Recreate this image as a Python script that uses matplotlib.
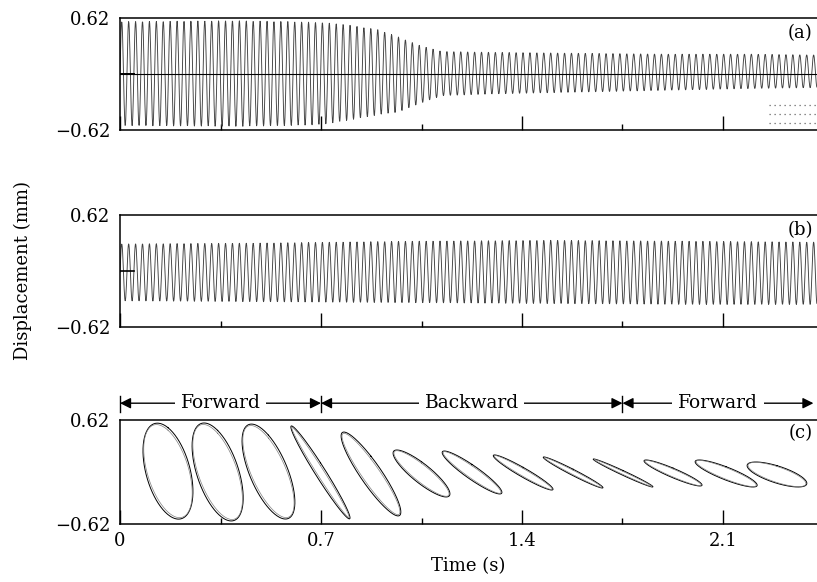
import numpy as np
import matplotlib
matplotlib.use("Agg")
import matplotlib.pyplot as plt

plt.rcParams["font.family"] = ["DejaVu Serif"]
plt.rcParams["axes.unicode_minus"] = True

# shaft displacement (envelope of the vibration)
freq = 41.5  # Hz, oscillation seen in (a) and (b)

a_time = [0, 0.4, 0.6, 0.7, 0.78, 0.9, 0.97, 1.04, 1.12, 1.3, 1.6, 1.9, 2.2, 2.43]
a_upper = [0.58, 0.59, 0.58, 0.57, 0.55, 0.49, 0.41, 0.32, 0.25, 0.24, 0.23, 0.22, 0.22, 0.21]
a_lower = [0.57, 0.58, 0.57, 0.56, 0.52, 0.45, 0.42, 0.33, 0.24, 0.22, 0.20, 0.18, 0.16, 0.15]

b_time = [0, 0.5, 1.0, 1.5, 2.0, 2.43]
b_upper = [0.30, 0.31, 0.33, 0.34, 0.33, 0.32]
b_lower = [0.33, 0.34, 0.35, 0.36, 0.37, 0.37]

# stray dotted rows at the bottom right of (a)
a_dots = [-0.34, -0.44, -0.54]

# orbits in (c): centre time, half width (s), centre and half height (mm), phase (deg)
orbit_t = [0.167, 0.340, 0.517, 0.698, 0.874, 1.050, 1.226, 1.404, 1.578, 1.752, 1.926, 2.111, 2.288]
orbit_dx = [0.087, 0.089, 0.092, 0.103, 0.104, 0.099, 0.104, 0.104, 0.104, 0.104, 0.101, 0.108, 0.104]
orbit_y = [0.01, 0.0, 0.005, -0.005, -0.024, -0.018, -0.006, -0.006, -0.006, -0.012, -0.012, -0.018, -0.03]
orbit_dy = [0.572, 0.584, 0.566, 0.554, 0.50, 0.28, 0.256, 0.209, 0.185, 0.167, 0.155, 0.161, 0.149]
orbit_phase = [115, 122, 130, 168, 155, 150, 158, 163, 168, 170, 158, 150, 135]

# direction of whirl
dir_labels = ["Forward", "Backward", "Forward"]
dir_edges = [0, 0.7, 1.75, 2.415]

ticks_major = [0, 0.7, 1.4, 2.1]
ticks_minor = [0.35, 1.05, 1.75]
xmax = 2.4274

fig = plt.figure(figsize=(8.17, 5.82), dpi=100)
ax_a = fig.add_axes([0.1469, 0.7766, 0.8531, 0.1924])
ax_b = fig.add_axes([0.1469, 0.4381, 0.8531, 0.1924])
ax_c = fig.add_axes([0.1469, 0.0997, 0.8531, 0.1787])


def signal(t_env, up, lo):
    t = np.arange(0, xmax, 1 / 900)
    u = np.interp(t, t_env, up)
    l = np.interp(t, t_env, lo)
    return t, (u - l) / 2 + (u + l) / 2 * np.sin(2 * np.pi * freq * t)


t, y = signal(a_time, a_upper, a_lower)
ax_a.plot(t, y, color="0.25", lw=0.65)
ax_a.axhline(0, color="black", lw=0.8)
ax_a.plot([0, 0.05], [0, 0], color="black", lw=1.4)
for d in a_dots:
    ax_a.plot([2.26, xmax], [d, d], color="0.4", lw=0.9, ls=(0, (1, 3)))

t, y = signal(b_time, b_upper, b_lower)
ax_b.plot(t, y, color="0.25", lw=0.65)
ax_b.plot([0, 0.05], [0, 0], color="black", lw=1.2)

th = np.linspace(0, 2 * np.pi, 200)
for i in range(len(orbit_t)):
    ph = np.radians(orbit_phase[i])
    ax_c.plot(orbit_t[i] + orbit_dx[i] * np.sin(th),
              orbit_y[i] + orbit_dy[i] * np.sin(th + ph), color="black", lw=0.7)
    ax_c.plot(orbit_t[i] + 0.97 * orbit_dx[i] * np.sin(th),
              orbit_y[i] + 0.97 * orbit_dy[i] * np.sin(th + ph + 0.06), color="0.5", lw=0.5)

# arrows above (c)
ya = 0.82
for i in range(len(dir_labels)):
    x0, x1 = dir_edges[i], dir_edges[i + 1]
    ax_c.annotate("", xy=(x1, ya), xytext=(x0, ya), annotation_clip=False,
                  arrowprops=dict(arrowstyle="<|-|>", color="black", lw=1.0,
                                  mutation_scale=16, shrinkA=0, shrinkB=0))
    ax_c.text((x0 + x1) / 2, ya, dir_labels[i], ha="center", va="center", fontsize=13.5,
              bbox=dict(fc="white", ec="none", pad=4))
for x in dir_edges[:3]:
    ax_c.plot([x, x], [0.715, 0.906], color="black", lw=1.0, clip_on=False)

for ax, lab in zip([ax_a, ax_b, ax_c], ["(a)", "(b)", "(c)"]):
    ax.set_xlim(0, xmax)
    ax.set_ylim(-0.62, 0.62)
    ax.spines["right"].set_visible(False)
    for s in ["top", "left", "bottom"]:
        ax.spines[s].set_linewidth(1.1)
    ax.set_yticks([-0.62, 0.62])
    ax.set_yticklabels(["\u22120.62", "0.62"])
    ax.set_xticks(ticks_major)
    ax.set_xticks(ticks_minor, minor=True)
    ax.tick_params(axis="y", length=0, pad=7, labelsize=13)
    ax.tick_params(axis="x", which="major", direction="in", length=10, width=1.0,
                   labelsize=13, pad=6)
    ax.tick_params(axis="x", which="minor", direction="in", length=4.5, width=1.0)
    ax.text(0.994, 0.87, lab, transform=ax.transAxes, ha="right", va="center", fontsize=13)

ax_a.set_xticklabels([])
ax_b.set_xticklabels([])
ax_c.set_xticklabels(["0", "0.7", "1.4", "2.1"])
ax_c.set_xlabel("Time (s)", fontsize=13, labelpad=5)
fig.text(0.028, 0.535, "Displacement (mm)", rotation=90, ha="center", va="center", fontsize=13)

fig.savefig("out.png", dpi=100)
